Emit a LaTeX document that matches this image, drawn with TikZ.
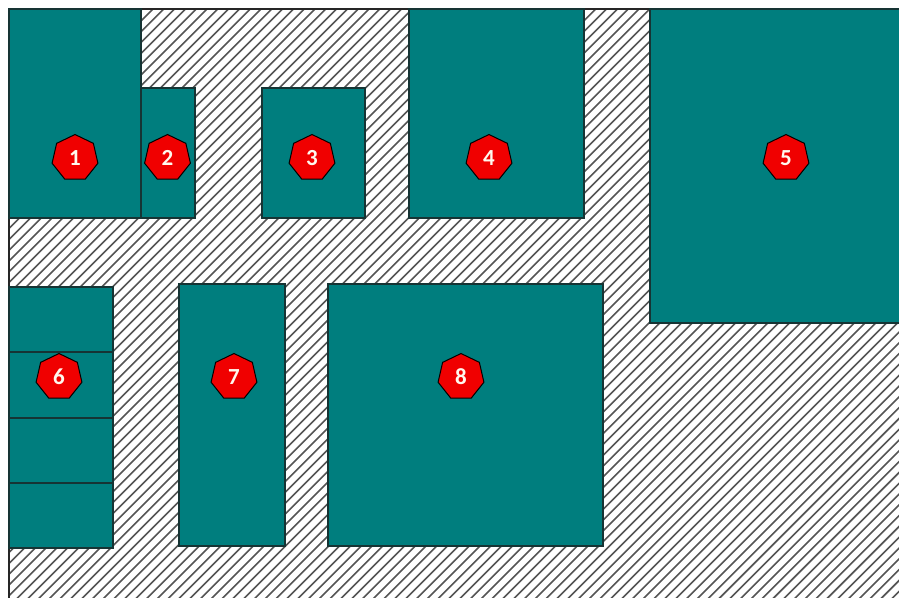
\documentclass[tikz,border=0pt]{standalone}
\usepackage{fontspec}
\setmainfont{Carlito}
\usetikzlibrary{shapes.geometric,calc}
\definecolor{roomteal}{RGB}{0,126,126}
\definecolor{roomedge}{RGB}{22,52,52}
\definecolor{markred}{RGB}{240,0,0}
\definecolor{hatchgray}{RGB}{85,85,85}
\definecolor{digitwhite}{RGB}{255,248,238}
\tikzset{
  room/.style={draw=roomedge, line width=1.4pt, fill=roomteal, rectangle, anchor=north west, inner sep=0pt, outer sep=0pt},
  marker/.style={regular polygon, regular polygon sides=7, minimum size=47pt, inner sep=0pt, fill=markred, draw=black, line width=1pt, text=digitwhite, font=\fontsize{23}{23}\selectfont\bfseries},
  hatch/.style={draw=hatchgray, line width=1.6pt},
  frame/.style={draw=black!85, line width=1.2pt}
}
\begin{document}
\begin{tikzpicture}[x=1pt,y=-1pt]
\useasboundingbox (0,0) rectangle (899,597);
\fill[white] (0,0) rectangle (899,597);
% hatched ground
\begin{scope}
\clip (9,9) rectangle (899,597);
\foreach \c in {0,10.8,...,1520} {
  \draw[hatch] (\c,0) -- (\c-700,700);
}
\end{scope}
\draw[frame] (9,600) -- (9,9) -- (902,9);
% rooms
\node[room, minimum width=132pt, minimum height=209pt] (r1) at (9,9) {};
\node[room, minimum width=54pt, minimum height=130pt] (r2) at (141,88) {};
\node[room, minimum width=103pt, minimum height=130pt] (r3) at (262,88) {};
\node[room, minimum width=175pt, minimum height=209pt] (r4) at (409,9) {};
\node[room, minimum width=260pt, minimum height=314pt] (r5) at (650,9) {};
\node[room, minimum width=104pt, minimum height=261pt] (r6) at (9,287) {};
\node[room, minimum width=106pt, minimum height=262pt] (r7) at (179,284) {};
\node[room, minimum width=275pt, minimum height=262pt] (r8) at (328,284) {};
\foreach \f in {0.25,0.5,0.75} {
  \draw[draw=roomedge, line width=2pt] ($(r6.north west)!\f!(r6.south west)$) -- ($(r6.north east)!\f!(r6.south east)$);
}
% markers
\node[marker] (m1) at (75,158) {1};
\node[marker] (m2) at (167.5,158) {2};
\node[marker] (m3) at (312,158) {3};
\node[marker] (m4) at (489,158) {4};
\node[marker] (m5) at (786,158) {5};
\node[marker] (m6) at (59,377) {6};
\node[marker] (m7) at (234,377) {7};
\node[marker] (m8) at (461,377) {8};
\end{tikzpicture}
\end{document}
